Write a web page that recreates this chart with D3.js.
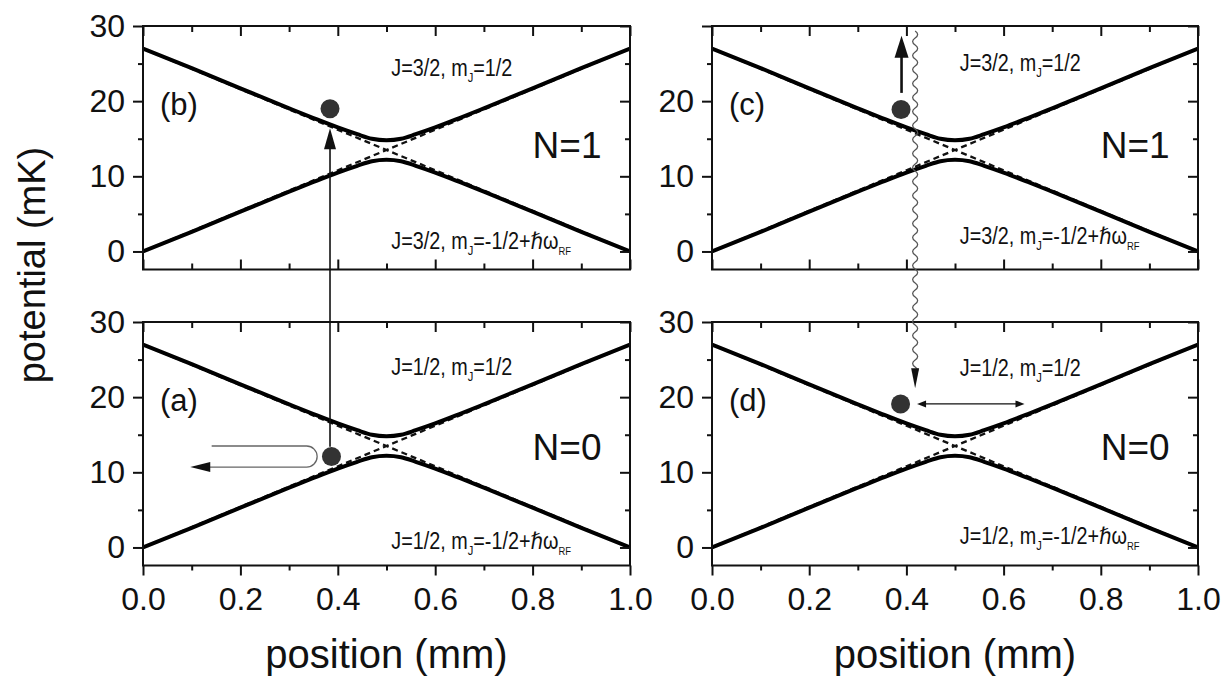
<!DOCTYPE html>
<html>
<head>
<meta charset="UTF-8">
<title>potential vs position</title>
<script src="https://cdn.jsdelivr.net/npm/d3@7"></script>
<style>
body { margin: 0; background: #fff; }
svg text { font-family: "Liberation Sans", Arial, Helvetica, sans-serif; fill: #111; }
.axis line { stroke: #111; stroke-width: 2; }
.axis text { font-size: 32px; fill: #111; }
</style>
</head>
<body>
<svg width="1225" height="680"></svg>
<script>

// curves (position in mm, potential in mK)
var posX        = [0, 0.1, 0.2, 0.3, 0.35, 0.4, 0.44, 0.47, 0.5, 0.53, 0.56, 0.6, 0.65, 0.7, 0.8, 0.9, 1.0];
var upperBranch = [27.0, 24.4, 21.7, 19.05, 17.75, 16.5, 15.6, 15.0, 14.8, 15.0, 15.6, 16.5, 17.75, 19.05, 21.7, 24.4, 27.0];
var lowerBranch = [0.0, 2.6, 5.3, 7.95, 9.25, 10.5, 11.4, 12.0, 12.2, 12.0, 11.4, 10.5, 9.25, 7.95, 5.3, 2.6, 0.0];

// dashed (uncoupled) levels
var crossX    = [0, 0.5, 1];
var crossDown = [27, 13.5, 0];
var crossUp   = [0, 13.5, 27];

var xMajor = [0, 0.2, 0.4, 0.6, 0.8, 1.0];
var xMinor = [0.1, 0.3, 0.5, 0.7, 0.9];
var yMajor = [0, 10, 20, 30];
var yMinor = [5, 15, 25];

// one entry per panel: b, a, c, d
var panelKeys   = ["b", "a", "c", "d"];
var panelNames  = ["(b)", "(a)", "(c)", "(d)"];
var bandNames   = ["N=1", "N=0", "N=1", "N=0"];
var bandY       = [12.4, 11.6, 12.4, 11.6];
var jValues     = ["J=3/2", "J=1/2", "J=3/2", "J=1/2"];
var topStateY   = [23.4, 23.0, 24.0, 22.8];
var lowStateY   = [0.3, -0.2, 1.0, 0.5];
var yLabelled   = [[0, 10, 20, 30], [0, 10, 20, 30], [0, 10, 20], [0, 10, 20, 30]];
var atomX       = [0.384, 0.387, 0.389, 0.388];
var atomY       = [19.0, 12.1, 18.9, 19.1];

var svg = d3.select("svg");

var panels = {
  b: { left: 143, right: 630, top: 26, bottom: 269.5, xLab: false },
  a: { left: 143, right: 630, top: 322, bottom: 565.5, xLab: true },
  c: { left: 712, right: 1198, top: 26, bottom: 269.5, xLab: false },
  d: { left: 712, right: 1198, top: 322, bottom: 565.5, xLab: true }
};

function noDomain(g) { g.select(".domain").remove(); }

function arrowHead(tipX, tipY, dx, dy, len, hw, color) {
  var bx = tipX - dx * len, by = tipY - dy * len;
  var px = -dy * hw, py = dx * hw;
  svg.append("polygon")
    .attr("points", [[tipX, tipY], [bx + px, by + py], [bx - px, by - py]].map(function(p) { return p.join(","); }).join(" "))
    .attr("fill", color);
}

panelKeys.forEach(function(key, i) {
  var p = panels[key];
  var x = d3.scaleLinear().domain([0, 1]).range([p.left, p.right]);
  var y = d3.scaleLinear().domain([-2.4, 30]).range([p.bottom, p.top]);
  p.x = x; p.y = y;

  var g = svg.append("g");

  g.append("clipPath").attr("id", "clip-" + key)
    .append("rect").attr("x", p.left).attr("y", p.top)
    .attr("width", p.right - p.left).attr("height", p.bottom - p.top);

  var plot = g.append("g").attr("clip-path", "url(#clip-" + key + ")");

  var straight = d3.line().x(function(d) { return x(d[0]); }).y(function(d) { return y(d[1]); });
  var smooth = d3.line().curve(d3.curveMonotoneX).x(function(d) { return x(d[0]); }).y(function(d) { return y(d[1]); });

  [crossDown, crossUp].forEach(function(vals) {
    plot.append("path")
      .attr("d", straight(crossX.map(function(v, k) { return [v, vals[k]]; })))
      .attr("fill", "none").attr("stroke", "#111").attr("stroke-width", 2.3)
      .attr("stroke-dasharray", "6,4");
  });
  [upperBranch, lowerBranch].forEach(function(vals) {
    plot.append("path")
      .attr("d", smooth(posX.map(function(v, k) { return [v, vals[k]]; })))
      .attr("fill", "none").attr("stroke", "#000").attr("stroke-width", 4);
  });

  // frame
  g.append("rect").attr("x", p.left).attr("y", p.top)
    .attr("width", p.right - p.left).attr("height", p.bottom - p.top)
    .attr("fill", "none").attr("stroke", "#111").attr("stroke-width", 2);

  var labs = yLabelled[i];
  g.append("g").attr("class", "axis").attr("transform", "translate(" + p.left + ",0)")
    .call(d3.axisLeft(y).tickValues(yMajor).tickSize(10).tickPadding(8)
      .tickFormat(function(d) { return labs.indexOf(d) >= 0 ? d : ""; }))
    .call(noDomain);
  g.append("g").attr("class", "axis").attr("transform", "translate(" + p.left + ",0)")
    .call(d3.axisLeft(y).tickValues(yMinor).tickSize(5).tickFormat("")).call(noDomain);
  // right side, ticks pointing in
  g.append("g").attr("class", "axis").attr("transform", "translate(" + p.right + ",0)")
    .call(d3.axisLeft(y).tickValues(yMajor).tickSize(10).tickFormat("")).call(noDomain);
  g.append("g").attr("class", "axis").attr("transform", "translate(" + p.right + ",0)")
    .call(d3.axisLeft(y).tickValues(yMinor).tickSize(5).tickFormat("")).call(noDomain);
  // top, ticks pointing in
  g.append("g").attr("class", "axis").attr("transform", "translate(0," + p.top + ")")
    .call(d3.axisBottom(x).tickValues(xMajor).tickSize(10).tickFormat("")).call(noDomain);
  g.append("g").attr("class", "axis").attr("transform", "translate(0," + p.top + ")")
    .call(d3.axisBottom(x).tickValues(xMinor).tickSize(6).tickFormat("")).call(noDomain);
  if (p.xLab) {
    g.append("g").attr("class", "axis").attr("transform", "translate(0," + p.bottom + ")")
      .call(d3.axisBottom(x).tickValues(xMajor).tickSize(10).tickPadding(12).tickFormat(d3.format(".1f")))
      .call(noDomain);
    g.append("g").attr("class", "axis").attr("transform", "translate(0," + p.bottom + ")")
      .call(d3.axisBottom(x).tickValues(xMinor).tickSize(5).tickFormat("")).call(noDomain);
  } else {
    g.append("g").attr("class", "axis").attr("transform", "translate(0," + p.bottom + ")")
      .call(d3.axisTop(x).tickValues(xMajor).tickSize(10).tickFormat("")).call(noDomain);
    g.append("g").attr("class", "axis").attr("transform", "translate(0," + p.bottom + ")")
      .call(d3.axisTop(x).tickValues(xMinor).tickSize(6).tickFormat("")).call(noDomain);
  }

  g.append("text").attr("x", x(0.035)).attr("y", y(18.1))
    .attr("font-size", 31).text(panelNames[i]);
  g.append("text").attr("x", x(0.80)).attr("y", y(bandY[i]))
    .attr("font-size", 37).text(bandNames[i]);

  // state labels (narrow lettering)
  var t1 = g.append("text")
    .attr("transform", "translate(" + x(0.51) + "," + y(topStateY[i]) + ") scale(0.86,1)")
    .attr("font-size", 23);
  t1.append("tspan").text(jValues[i] + ", m");
  t1.append("tspan").attr("font-size", 13).attr("dy", 6).text("J");
  t1.append("tspan").attr("dy", -6).text("=1/2");

  var t2 = g.append("text")
    .attr("transform", "translate(" + x(0.51) + "," + y(lowStateY[i]) + ") scale(0.86,1)")
    .attr("font-size", 23);
  t2.append("tspan").text(jValues[i] + ", m");
  t2.append("tspan").attr("font-size", 13).attr("dy", 6).text("J");
  t2.append("tspan").attr("dy", -6).text("=-1/2+");
  t2.append("tspan").attr("font-family", "DejaVu Sans").text("\u210F");
  t2.append("tspan").text("\u03C9");
  t2.append("tspan").attr("font-size", 11).attr("dy", 6).text("RF");

  g.append("circle").attr("cx", x(atomX[i])).attr("cy", y(atomY[i])).attr("r", 9.5).attr("fill", "#333");
});

// axis titles
svg.append("text").attr("transform", "translate(45,265) rotate(-90)")
  .attr("text-anchor", "middle").attr("font-size", 38).text("potential (mK)");
svg.append("text").attr("x", (panels.a.left + panels.a.right) / 2).attr("y", 668)
  .attr("text-anchor", "middle").attr("font-size", 40).text("position (mm)");
svg.append("text").attr("x", (panels.d.left + panels.d.right) / 2).attr("y", 668)
  .attr("text-anchor", "middle").attr("font-size", 40).text("position (mm)");

// annotation: excitation arrow from (a) up into (b)
var ax = panels.a.x(0.384), a0 = panels.a.y(13.4), a1 = panels.b.y(16.4);
svg.append("line").attr("x1", ax).attr("x2", ax).attr("y1", a0).attr("y2", a1 + 18)
  .attr("stroke", "#111").attr("stroke-width", 1.6);
arrowHead(ax, a1, 0, -1, 21, 6, "#111");

// annotation: U-turn in (a)
var uTop = panels.a.y(13.5), uBot = panels.a.y(10.7), uR = (uBot - uTop) / 2;
var uStart = panels.a.x(0.141), uTurn = panels.a.x(0.336), uTip = panels.a.x(0.097);
var up = d3.path();
up.moveTo(uStart, uTop);
up.lineTo(uTurn, uTop);
up.arc(uTurn, uTop + uR, uR, -Math.PI / 2, Math.PI / 2, false);
up.lineTo(uTip + 16, uBot);
svg.append("path").attr("d", up.toString()).attr("fill", "none").attr("stroke", "#666").attr("stroke-width", 1.3);
arrowHead(uTip, uBot, -1, 0, 20, 5, "#111");

// annotation: arrow up from atom in (c)
var cx = panels.c.x(0.39), c0 = panels.c.y(21.1), c1 = panels.c.y(28.7);
svg.append("line").attr("x1", cx).attr("x2", cx).attr("y1", c0).attr("y2", c1 + 18)
  .attr("stroke", "#111").attr("stroke-width", 2.6);
arrowHead(cx, c1, 0, -1, 22, 7, "#111");

// annotation: wavy photon line from (c) down into (d)
var wx = panels.c.x(0.418), w0 = 31, w1 = panels.d.y(21.2);
var wp = d3.path(), half = 7, k = 0;
wp.moveTo(wx, w0);
for (var yy = w0; yy + half <= w1 - 14; yy += half, k++) {
  wp.quadraticCurveTo(wx + (k % 2 ? -5 : 5), yy + half / 2, wx, yy + half);
}
wp.lineTo(wx, w1 - 14);
svg.append("path").attr("d", wp.toString()).attr("fill", "none").attr("stroke", "#555").attr("stroke-width", 1.3);
arrowHead(wx, w1, 0, 1, 20, 4, "#111");

// annotation: double arrow in (d)
var dy0 = panels.d.y(19.1), dl = panels.d.x(0.422), dr = panels.d.x(0.643);
svg.append("line").attr("x1", dl + 6).attr("x2", dr - 6).attr("y1", dy0).attr("y2", dy0)
  .attr("stroke", "#111").attr("stroke-width", 1.2);
arrowHead(dl, dy0, -1, 0, 9, 3.5, "#111");
arrowHead(dr, dy0, 1, 0, 9, 3.5, "#111");

</script>
</body>
</html>
